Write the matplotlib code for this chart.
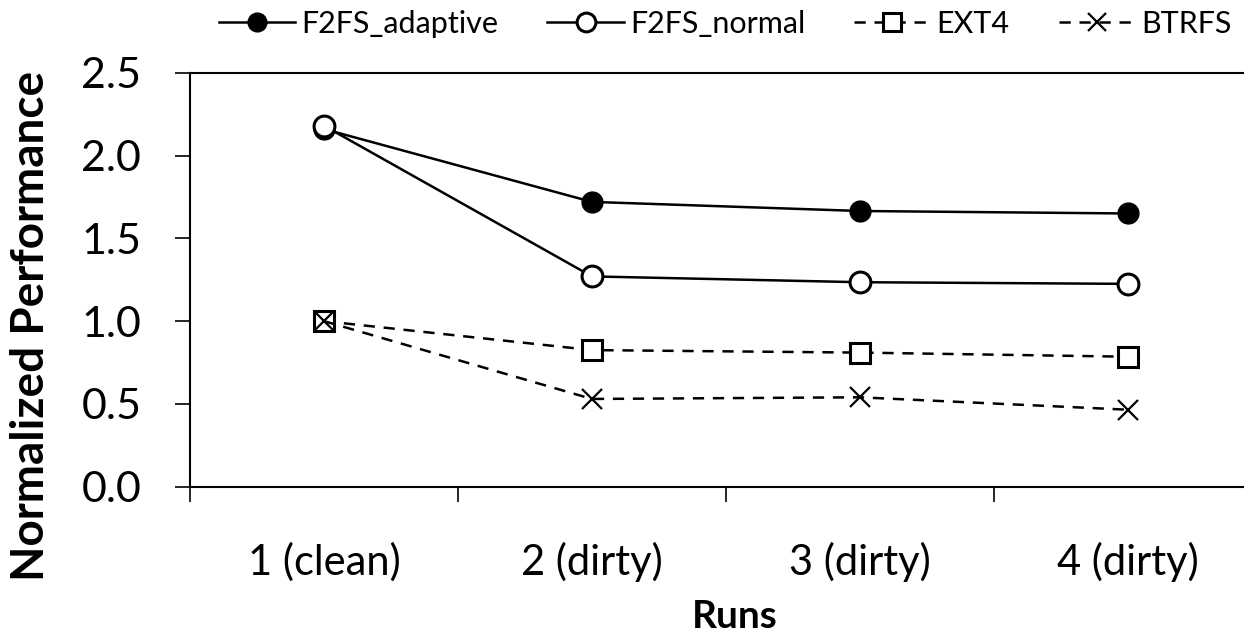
import matplotlib
matplotlib.use('Agg')
import matplotlib.pyplot as plt
import numpy as np

runs = ['1 (clean)', '2 (dirty)', '3 (dirty)', '4 (dirty)']
f2fs_adaptive = [2.16, 1.72, 1.665, 1.65]
f2fs_normal = [2.18, 1.27, 1.235, 1.225]
ext4 = [1.0, 0.825, 0.81, 0.785]
btrfs = [1.0, 0.53, 0.54, 0.465]

plt.rcParams['font.family'] = ['Lato', 'DejaVu Sans']

fig = plt.figure(figsize=(12.44, 6.39), dpi=100)
ax = fig.add_axes([0.1527, 0.2383, 0.8617, 0.6479])

x = np.arange(len(runs))
lw = 1.8
dash = (0, (4.5, 3.5))
ax.plot(x, f2fs_adaptive, color='black', lw=lw, marker='o', ms=15,
        mfc='black', mec='black', label='F2FS_adaptive', zorder=3)
ax.plot(x, f2fs_normal, color='black', lw=lw, marker='o', ms=15,
        mfc='white', mec='black', mew=2.2, label='F2FS_normal', zorder=4)
ax.plot(x, ext4, color='black', lw=lw, ls=dash, marker='s', ms=15,
        mfc='white', mec='black', mew=2.2, label='EXT4', zorder=3)
ax.plot(x, btrfs, color='black', lw=lw, ls=dash, marker='x', ms=15,
        mec='black', mew=1.6, label='BTRFS', zorder=3)

ax.set_xlim(-0.5, 3.5)
ax.set_ylim(0, 2.5)
ax.set_yticks(np.arange(0, 2.51, 0.5))
ax.set_yticklabels(['%.1f' % v for v in np.arange(0, 2.51, 0.5)], fontsize=31)
ax.set_xticks(x)
ax.set_xticklabels(runs, fontsize=30)
ax.set_xticks(np.arange(-0.5, 3.6, 1), minor=True)
ax.tick_params(axis='x', which='major', length=0, pad=40)
ax.tick_params(axis='x', which='minor', length=11, width=1.2, direction='out')
ax.tick_params(axis='y', length=11, width=1.2, direction='out', pad=24)

ax.spines['right'].set_visible(False)
for s in ['left', 'bottom', 'top']:
    ax.spines[s].set_linewidth(1.5)

ax.set_ylabel('Normalized Performance', fontsize=33, fontweight='bold')
ax.yaxis.set_label_coords(-0.129, 0.388)
ax.set_xlabel('Runs', fontsize=28, fontweight='bold')
ax.xaxis.set_label_coords(0.508, -0.272)

fig.legend(loc='center', bbox_to_anchor=(0.583, 0.963), ncol=4, frameon=False,
           fontsize=22, handlelength=2.5, handletextpad=0.2, columnspacing=1.6,
           markerscale=0.9)

fig.savefig('out.png', dpi=100)
